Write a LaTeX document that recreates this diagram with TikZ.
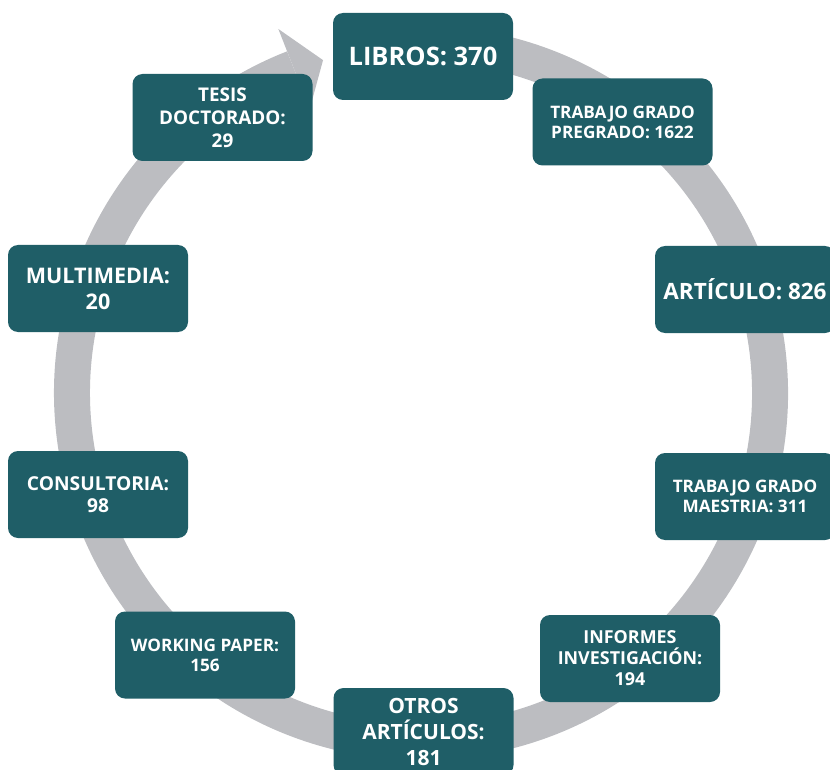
\documentclass[tikz,border=0pt]{standalone}
\usepackage{fontspec}
\setmainfont{Open Sans}
\usetikzlibrary{calc}
\definecolor{sTeal}{HTML}{1F5E67}
\definecolor{sGrey}{HTML}{BCBDC1}

\begin{document}
\begin{tikzpicture}[yscale=-1,x=1pt,y=1pt]
		\tikzstyle{BOX} = [fill=sTeal, text=white, rounded corners=10pt, minimum width=180pt, minimum height=87pt, align=center]
		\tikzstyle{small} = [BOX, font=\fontsize{17.2}{20}\selectfont\bfseries]
		\tikzstyle{tall} = [BOX, font=\fontsize{18.9}{23}\selectfont\bfseries]
		\tikzstyle{medium} = [BOX, font=\fontsize{19.2}{21.7}\selectfont\bfseries]
		\tikzstyle{multi} = [BOX, font=\fontsize{21.5}{26}\selectfont\bfseries]
		\tikzstyle{wide} = [BOX, font=\fontsize{21}{26}\selectfont\bfseries]
		\tikzstyle{large} = [BOX, font=\fontsize{25.5}{30}\selectfont\bfseries]
		\tikzstyle{ring} = [draw=sGrey, line width=36pt]

		\useasboundingbox (0,0) rectangle (830,770);

		% the cycle ring with its arrow head
		\coordinate (centre) at (421,393);
		\draw[ring] (centre) ++(-100:349) arc[start angle=-100, end angle=248.6, radius=349];
		\fill[sGrey] ($(centre)+(248.6:391)$) -- ($(centre)+(253.6:347)$) -- ($(centre)+(248.6:305)$) -- cycle;

		\node[large] (libros) at (423,56.5) {LIBROS: 370};
		\node[small] (pregrado) at (622.5,122) {TRABAJO GRADO\\PREGRADO: 1622};
		\node[wide, font=\fontsize{22.5}{26}\selectfont\bfseries] (articulo) at (745,289.5) {ARTÍCULO: 826};
		\node[small] (maestria) at (745,496.5) {TRABAJO GRADO\\MAESTRIA: 311};
		\node[small, font=\fontsize{17.9}{21}\selectfont\bfseries] (informes) at (630,658.5) {INFORMES\\INVESTIGACIÓN:\\194};
		\node[wide] (otros) at (423.5,731.5) {OTROS\\ARTÍCULOS:\\181};
		\node[small] (working) at (205,655) {WORKING PAPER:\\156};
		\node[medium] (consultoria) at (98,494.5) {CONSULTORIA:\\98};
		\node[multi] (multimedia) at (98,288.5) {MULTIMEDIA:\\20};
		\node[tall] (tesis) at (222.5,117.5) {TESIS\\DOCTORADO:\\29};
\end{tikzpicture}
\end{document}
